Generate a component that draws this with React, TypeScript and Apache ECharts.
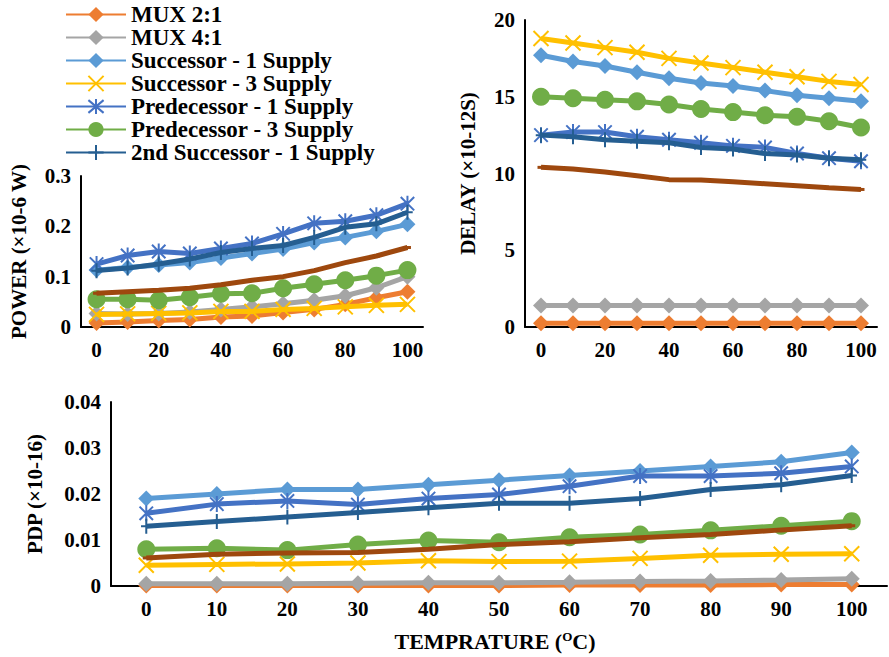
import React, { useEffect, useRef } from "react";
import * as echarts from "echarts";

const temps = ["0", "10", "20", "30", "40", "50", "60", "70", "80", "90", "100"];

const seriesNames = [
  "MUX 2:1",
  "MUX 4:1",
  "Successor - 1 Supply",
  "Successor - 3 Supply",
  "Predecessor - 1 Supply",
  "Predecessor - 3 Supply",
  "2nd Successor - 1 Supply",
  "2nd Successor - 3 Supply",
];
const legendNames = seriesNames.slice(0, 7);

// POWER (x10^-6 W)
const powerMux21 = [0.008, 0.01, 0.013, 0.015, 0.02, 0.022, 0.029, 0.035, 0.045, 0.058, 0.07];
const powerMux41 = [0.027, 0.026, 0.027, 0.03, 0.035, 0.04, 0.046, 0.053, 0.062, 0.078, 0.1];
const powerSucc1 = [0.113, 0.118, 0.123, 0.128, 0.137, 0.146, 0.155, 0.168, 0.178, 0.19, 0.204];
const powerSucc3 = [0.025, 0.026, 0.027, 0.028, 0.031, 0.031, 0.035, 0.037, 0.04, 0.043, 0.045];
const powerPred1 = [0.125, 0.142, 0.15, 0.146, 0.156, 0.166, 0.185, 0.206, 0.21, 0.222, 0.245];
const powerPred3 = [0.055, 0.055, 0.053, 0.059, 0.066, 0.067, 0.077, 0.085, 0.093, 0.102, 0.113];
const power2Succ1 = [0.112, 0.117, 0.125, 0.135, 0.148, 0.156, 0.162, 0.178, 0.198, 0.205, 0.228];
const power2Succ3 = [0.067, 0.07, 0.073, 0.077, 0.084, 0.093, 0.1, 0.112, 0.128, 0.141, 0.158];

// DELAY (x10^-12 S)
const delayMux21 = [0.25, 0.25, 0.25, 0.25, 0.25, 0.25, 0.25, 0.25, 0.25, 0.25, 0.25];
const delayMux41 = [1.4, 1.4, 1.4, 1.4, 1.4, 1.4, 1.4, 1.4, 1.4, 1.4, 1.4];
const delaySucc1 = [17.7, 17.3, 17.0, 16.6, 16.2, 15.9, 15.7, 15.4, 15.1, 14.9, 14.7];
const delaySucc3 = [18.8, 18.5, 18.2, 17.9, 17.5, 17.2, 16.9, 16.6, 16.3, 16.0, 15.8];
const delayPred1 = [12.5, 12.7, 12.7, 12.4, 12.2, 12.0, 11.8, 11.7, 11.3, 11.0, 10.8];
const delayPred3 = [15.0, 14.9, 14.8, 14.7, 14.5, 14.2, 14.0, 13.8, 13.7, 13.4, 13.0];
const delay2Succ1 = [12.5, 12.4, 12.2, 12.1, 12.0, 11.7, 11.6, 11.3, 11.2, 11.0, 10.9];
const delay2Succ3 = [10.4, 10.3, 10.1, 9.85, 9.6, 9.57, 9.46, 9.33, 9.2, 9.07, 8.96];

// PDP (x10^-16)
const pdpMux21 = [0.0001, 0.0001, 0.0001, 0.0001, 0.0001, 0.0001, 0.0002, 0.0002, 0.0002, 0.0003, 0.0003];
const pdpMux41 = [0.0005, 0.0005, 0.0005, 0.0006, 0.0007, 0.0007, 0.0008, 0.001, 0.0011, 0.0013, 0.0016];
const pdpSucc1 = [0.019, 0.02, 0.021, 0.021, 0.022, 0.023, 0.024, 0.025, 0.026, 0.027, 0.029];
const pdpSucc3 = [0.0045, 0.0047, 0.0048, 0.005, 0.0055, 0.0053, 0.0054, 0.006, 0.0067, 0.0069, 0.007];
const pdpPred1 = [0.0158, 0.0178, 0.0185, 0.0177, 0.019, 0.0199, 0.0217, 0.0239, 0.0239, 0.0245, 0.026];
const pdpPred3 = [0.008, 0.0082, 0.0078, 0.009, 0.0099, 0.0095, 0.0106, 0.0112, 0.0121, 0.0131, 0.0141];
const pdp2Succ1 = [0.013, 0.014, 0.015, 0.016, 0.017, 0.018, 0.018, 0.019, 0.021, 0.022, 0.024];
const pdp2Succ3 = [0.0061, 0.0069, 0.0072, 0.0073, 0.008, 0.009, 0.0096, 0.0105, 0.0112, 0.0122, 0.0131];

const powerData = [powerMux21, powerMux41, powerSucc1, powerSucc3, powerPred1, powerPred3, power2Succ1, power2Succ3];
const delayData = [delayMux21, delayMux41, delaySucc1, delaySucc3, delayPred1, delayPred3, delay2Succ1, delay2Succ3];
const pdpData = [pdpMux21, pdpMux41, pdpSucc1, pdpSucc3, pdpPred1, pdpPred3, pdp2Succ1, pdp2Succ3];

const colors = ["#ED7D31", "#A5A5A5", "#5B9BD5", "#FFC000", "#4472C4", "#70AD47", "#255E91", "#9E480E"];

const X_PATH = "path://M0,0 L10,10 M10,0 L0,10";
const STAR_PATH = "path://M5,0 L5,10 M0.8,0.8 L9.2,9.2 M9.2,0.8 L0.8,9.2";
const PLUS_PATH = "path://M5,0 L5,10 M1.5,5 L8.5,5";

const symbols: any[] = ["diamond", "diamond", "diamond", X_PATH, STAR_PATH, "circle", PLUS_PATH, "rect"];
const symbolSizes: any[] = [16, 16, 16, 15, 16, 18, 15, [7, 3]];
const borderWidths = [0, 0, 0, 2, 2, 0, 2, 0];

const FONT = "Liberation Serif";

export default function App() {
  const ref = useRef<HTMLDivElement>(null);

  useEffect(() => {
    if (!ref.current) return;
    const chart = echarts.init(ref.current, undefined, { renderer: "svg" });

    const axisLine = { show: true, lineStyle: { color: "#000", width: 2 } };
    const labelStyle = { color: "#000", fontFamily: FONT, fontWeight: "bold" as const, fontSize: 21 };
    const nameStyle = { color: "#000", fontFamily: FONT, fontWeight: "bold" as const, fontSize: 21 };

    const grids = [
      { left: 81, top: 176, right: 466, bottom: 330 },
      { left: 525, top: 20, right: 12, bottom: 330 },
      { left: 111, top: 402, right: 2, bottom: 71 },
    ];

    const xAxes = [0, 1, 2].map((i) => ({
      type: "category",
      gridIndex: i,
      data: temps,
      boundaryGap: true,
      axisLine,
      axisTick: { show: false },
      axisLabel: { ...labelStyle, interval: i === 2 ? 0 : 1, margin: 12 },
      splitLine: { show: false },
      ...(i === 2
        ? {
            name: "TEMPRATURE ({sup|O}C)",
            nameLocation: "middle",
            nameGap: 44,
            nameTextStyle: {
              ...nameStyle,
              fontSize: 22,
              padding: [0, 8, 0, 0],
              rich: {
                sup: { fontFamily: FONT, fontWeight: "bold", fontSize: 13, color: "#000", verticalAlign: "top", padding: [0, 0, 10, 0] },
              },
            },
          }
        : {}),
    }));

    const yCfg = [
      { max: 0.3, interval: 0.1, name: "POWER (×10-6 W)", gap: 52 },
      { max: 20, interval: 5, name: "DELAY (×10-12S)", gap: 47 },
      { max: 0.04, interval: 0.01, name: "PDP (×10-16)", gap: 66 },
    ];
    const yAxes = yCfg.map((c, i) => ({
      type: "value",
      gridIndex: i,
      min: 0,
      max: c.max,
      interval: c.interval,
      axisLine,
      axisTick: { show: false },
      splitLine: { show: false },
      axisLabel: { ...labelStyle, margin: 10 },
      name: c.name,
      nameLocation: "middle",
      nameRotate: 90,
      nameGap: c.gap,
      nameTextStyle: nameStyle,
    }));

    const datasets = [powerData, delayData, pdpData];
    const series: any[] = [];
    datasets.forEach((ds, g) => {
      ds.forEach((vals, k) => {
        series.push({
          type: "line",
          name: seriesNames[k],
          xAxisIndex: g,
          yAxisIndex: g,
          data: vals,
          symbol: symbols[k],
          symbolSize: symbolSizes[k],
          symbolKeepAspect: k !== 7,
          showAllSymbol: true,
          color: colors[k],
          lineStyle: { color: colors[k], width: 5 },
          itemStyle: { color: colors[k], borderColor: colors[k], borderWidth: borderWidths[k] },
          z: 2 + k,
        });
      });
    });

    chart.setOption({
      animation: false,
      backgroundColor: "#fff",
      legend: {
        data: legendNames,
        orient: "vertical",
        left: 65,
        top: 3,
        padding: 0,
        itemWidth: 60,
        itemHeight: 19,
        itemGap: 0,
        textStyle: { color: "#000", fontFamily: FONT, fontWeight: "bold", fontSize: 23, lineHeight: 23 },
      },
      grid: grids,
      xAxis: xAxes,
      yAxis: yAxes,
      series,
    });

    return () => chart.dispose();
  }, []);

  return <div ref={ref} style={{ width: 889, height: 657, position: "absolute", left: 0, top: 0 }} />;
}
